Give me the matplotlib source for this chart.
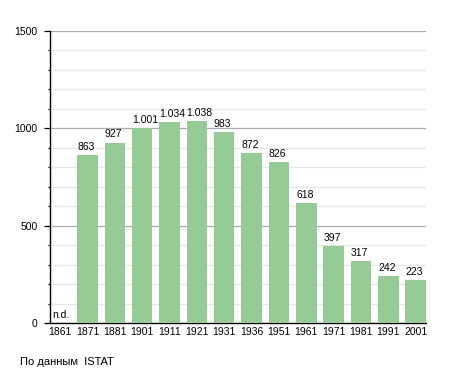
import matplotlib.pyplot as plt
from matplotlib.ticker import MultipleLocator

years = ['1861', '1871', '1881', '1901', '1911', '1921', '1931',
         '1936', '1951', '1961', '1971', '1981', '1991', '2001']
population = [0, 863, 927, 1001, 1034, 1038, 983,
              872, 826, 618, 397, 317, 242, 223]
value_labels = ['n.d.', '863', '927', '1.001', '1.034', '1.038', '983',
                '872', '826', '618', '397', '317', '242', '223']
y_ticks = [0, 500, 1000, 1500]

plt.rcParams['font.family'] = ['Liberation Sans', 'DejaVu Sans']
FS = 7.5

fig = plt.figure(figsize=(4.55, 3.73), dpi=100)
ax = fig.add_axes([50 / 455, 1 - 323 / 373, 376 / 455, 292 / 373])

x = range(len(years))
bar_w = 0.75
ax.bar(x, population, width=bar_w, color='#97cb96', zorder=3)

# labels sit at the left edge of each bar, like the original
for i, (v, lab) in enumerate(zip(population, value_labels)):
    if v == 0:
        ax.text(i - 0.29, 27, lab, ha='left', va='baseline', fontsize=FS)
    else:
        ax.text(i - bar_w / 2, v + 26, lab, ha='left', va='baseline', fontsize=FS)

ax.set_xlim(-0.373, 13.38)
ax.set_ylim(0, 1500)
ax.set_yticks(y_ticks)
ax.set_yticklabels([str(t) for t in y_ticks], fontsize=FS)
ax.yaxis.set_minor_locator(MultipleLocator(100))
ax.set_xticks(list(x))
ax.set_xticklabels(years, fontsize=FS)

ax.grid(axis='y', which='major', color='#aaaaaa', linewidth=0.9, zorder=0)
ax.grid(axis='y', which='minor', color='#e6e6e6', linewidth=0.9, zorder=0)
ax.tick_params(axis='y', which='major', length=4, width=0.9, pad=5)
ax.tick_params(axis='y', which='minor', length=1.8, width=0.9)
ax.tick_params(axis='x', length=0, pad=3)

ax.spines['top'].set_visible(False)
ax.spines['right'].set_visible(False)
ax.spines['left'].set_linewidth(1)
ax.spines['bottom'].set_linewidth(1)

fig.text(20 / 455, 1 - 362 / 373, 'По данным  ISTAT', fontsize=8,
         ha='left', va='center')

fig.savefig('out.png', dpi=100)
